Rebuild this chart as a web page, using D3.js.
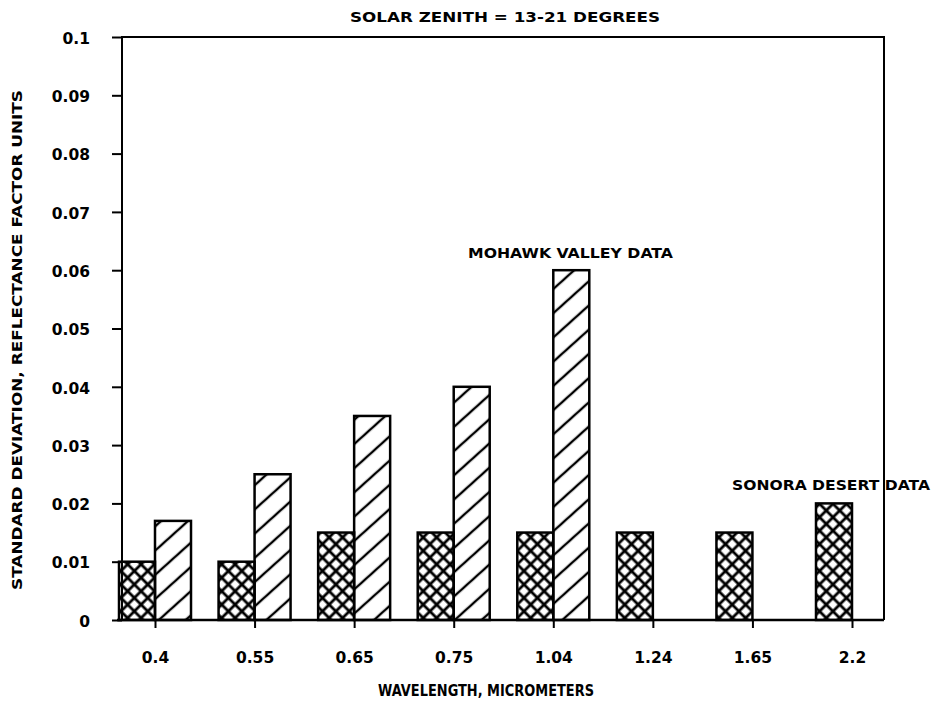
<!DOCTYPE html>
<html>
<head>
<meta charset="utf-8">
<script src="https://cdn.jsdelivr.net/npm/d3@7"></script>
<style>
  html, body { margin: 0; padding: 0; background: #fff; }
  svg { display: block; }
  text { font-family: "DejaVu Sans", "Liberation Sans", sans-serif; font-weight: bold; fill: #000; }
</style>
</head>
<body>
<svg id="chart" width="939" height="703"></svg>
<script>
// Wavelength bands (micrometers)
const wavelengths = ["0.4", "0.55", "0.65", "0.75", "1.04", "1.24", "1.65", "2.2"];
// Standard deviation of reflectance factor, Sonora Desert (cross-hatched bars)
const sonoraValues = [0.010, 0.010, 0.015, 0.015, 0.015, 0.015, 0.015, 0.020];
// Standard deviation of reflectance factor, Mohawk Valley (single-hatched bars)
const mohawkValues = [0.017, 0.025, 0.035, 0.040, 0.060];
// Y-axis tick values and labels
const yTicks = [0, 0.01, 0.02, 0.03, 0.04, 0.05, 0.06, 0.07, 0.08, 0.09, 0.1];
const yTickLabels = ["0", "0.01", "0.02", "0.03", "0.04", "0.05", "0.06", "0.07", "0.08", "0.09", "0.1"];

const svg = d3.select("#chart");
const plot = { left: 122, right: 884, top: 37, bottom: 620 };
const barW = 36;

const x = d3.scalePoint().domain(wavelengths).range([155, 852]);
const y = d3.scaleLinear().domain([0, 0.1]).range([plot.bottom, plot.top]);

// Hatch patterns
const defs = svg.append("defs");
const diag = defs.append("pattern")
  .attr("id", "diag").attr("patternUnits", "userSpaceOnUse")
  .attr("width", 18).attr("height", 18)
  .attr("patternTransform", "rotate(-42)");
diag.append("line").attr("x1", -2).attr("y1", 9).attr("x2", 20).attr("y2", 9)
  .attr("stroke", "#000").attr("stroke-width", 2.4);

const cross = defs.append("pattern")
  .attr("id", "cross").attr("patternUnits", "userSpaceOnUse")
  .attr("width", 9.5).attr("height", 9.5)
  .attr("patternTransform", "rotate(45)");
cross.append("line").attr("x1", -1).attr("y1", 4.75).attr("x2", 10.5).attr("y2", 4.75)
  .attr("stroke", "#000").attr("stroke-width", 2.8);
cross.append("line").attr("x1", 4.75).attr("y1", -1).attr("x2", 4.75).attr("y2", 10.5)
  .attr("stroke", "#000").attr("stroke-width", 2.8);

// Bars: Sonora to the left of each tick, Mohawk to the right
svg.append("g").selectAll("rect")
  .data(sonoraValues.map((v, i) => ({ k: wavelengths[i], v })))
  .join("rect")
  .attr("x", d => x(d.k) - barW)
  .attr("y", d => y(d.v))
  .attr("width", barW)
  .attr("height", d => y(0) - y(d.v))
  .attr("fill", "url(#cross)")
  .attr("stroke", "#000").attr("stroke-width", 2.5);

svg.append("g").selectAll("rect")
  .data(mohawkValues.map((v, i) => ({ k: wavelengths[i], v })))
  .join("rect")
  .attr("x", d => x(d.k))
  .attr("y", d => y(d.v))
  .attr("width", barW)
  .attr("height", d => y(0) - y(d.v))
  .attr("fill", "url(#diag)")
  .attr("stroke", "#000").attr("stroke-width", 2.5);

// Frame
svg.append("path")
  .attr("d", `M${plot.left},${plot.bottom}V${plot.top}H${plot.right}V${plot.bottom}`)
  .attr("fill", "none").attr("stroke", "#000").attr("stroke-width", 2);
svg.append("line")
  .attr("x1", plot.left - 5).attr("x2", plot.right)
  .attr("y1", plot.bottom).attr("y2", plot.bottom)
  .attr("stroke", "#000").attr("stroke-width", 2.5);

// Y axis
const yAxis = d3.axisLeft(y).tickValues(yTicks)
  .tickFormat((d, i) => yTickLabels[i]).tickSize(10).tickPadding(22);
const yg = svg.append("g").attr("transform", `translate(${plot.left},0)`).call(yAxis);
yg.select(".domain").remove();
yg.selectAll(".tick line").attr("stroke-width", 2);
yg.selectAll(".tick text").attr("font-size", 15.5).attr("font-family", "DejaVu Sans").attr("font-weight", "bold").attr("dy", "0.4em");

// X axis
const xAxis = d3.axisBottom(x).tickSize(8).tickPadding(24);
const xg = svg.append("g").attr("transform", `translate(0,${plot.bottom})`).call(xAxis);
xg.select(".domain").remove();
xg.selectAll(".tick line").attr("stroke-width", 2);
xg.selectAll(".tick text").attr("font-size", 15.5).attr("font-family", "DejaVu Sans").attr("font-weight", "bold");

// Titles and annotations
svg.append("text").attr("x", 505).attr("y", 22).attr("text-anchor", "middle")
  .attr("font-size", 14.5).attr("textLength", 310).attr("lengthAdjust", "spacingAndGlyphs")
  .text("SOLAR ZENITH = 13-21 DEGREES");

svg.append("text").attr("x", 486).attr("y", 696).attr("text-anchor", "middle")
  .attr("font-size", 15).attr("textLength", 216).attr("lengthAdjust", "spacingAndGlyphs")
  .text("WAVELENGTH, MICROMETERS");

svg.append("text")
  .attr("transform", "translate(22,340) rotate(-90)")
  .attr("text-anchor", "middle")
  .attr("font-size", 14.5).attr("textLength", 500).attr("lengthAdjust", "spacingAndGlyphs")
  .text("STANDARD DEVIATION, REFLECTANCE FACTOR UNITS");

svg.append("text").attr("x", 468).attr("y", 258)
  .attr("font-size", 14.5).attr("textLength", 205).attr("lengthAdjust", "spacingAndGlyphs")
  .text("MOHAWK VALLEY DATA");

svg.append("text").attr("x", 732).attr("y", 490)
  .attr("font-size", 14.5).attr("textLength", 198).attr("lengthAdjust", "spacingAndGlyphs")
  .text("SONORA DESERT DATA");
</script>
</body>
</html>
